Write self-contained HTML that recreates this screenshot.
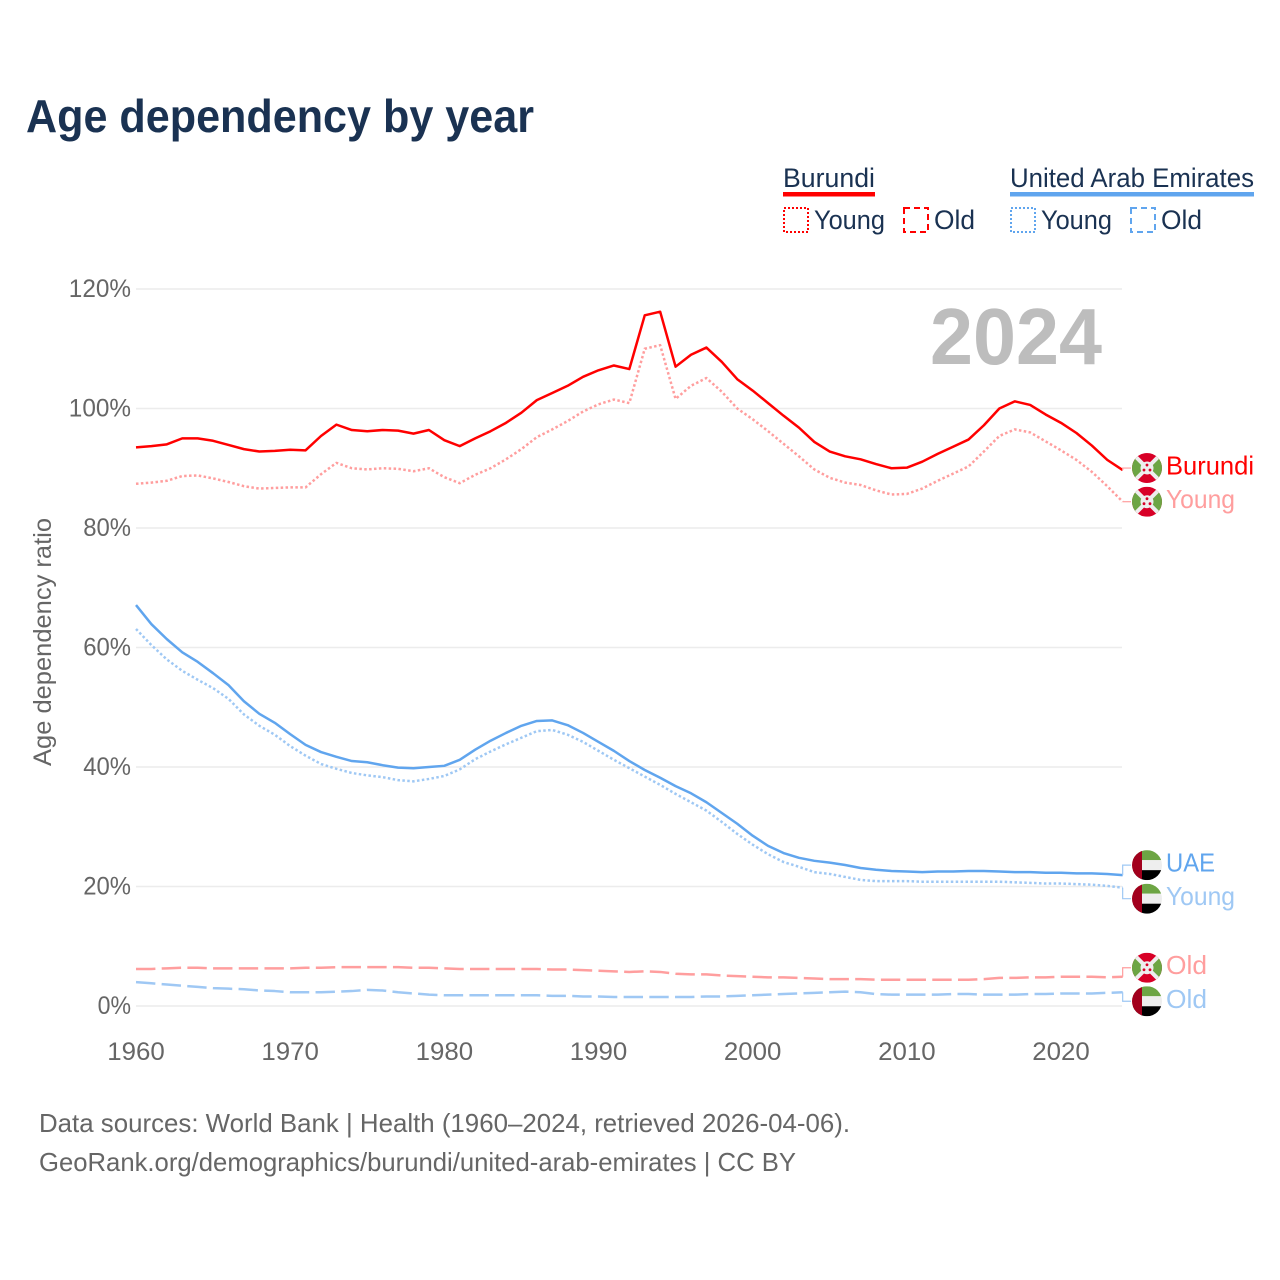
<!DOCTYPE html>
<html lang="en">
<head>
<meta charset="utf-8">
<title>Age dependency by year</title>
<style>
html,body{margin:0;padding:0;background:#fff;}
svg{display:block;}
text{font-family:"Liberation Sans",sans-serif;}
</style>
</head>
<body>
<svg id="chart" xmlns="http://www.w3.org/2000/svg" width="1280" height="1280" viewBox="0 0 1280 1280">
  <rect x="0" y="0" width="1280" height="1280" fill="#ffffff"/>
  <text x="26" y="132" font-size="46" font-weight="700" fill="#1a3252" textLength="508" lengthAdjust="spacingAndGlyphs">Age dependency by year</text>

  <g font-size="27" fill="#1a3252">
    <text x="783" y="187" textLength="92" lengthAdjust="spacingAndGlyphs">Burundi</text>
    <rect x="783" y="192" width="92" height="4.5" fill="#ff0000"/>
    <rect x="784" y="208" width="24" height="24" fill="none" stroke="#ff0000" stroke-width="2" stroke-dasharray="2 2"/>
    <text x="814" y="229" textLength="71" lengthAdjust="spacingAndGlyphs">Young</text>
    <rect x="904" y="208" width="24" height="24" fill="none" stroke="#ff0000" stroke-width="2" stroke-dasharray="6 4"/>
    <text x="934" y="229" textLength="41" lengthAdjust="spacingAndGlyphs">Old</text>
    <text x="1010" y="187" textLength="244" lengthAdjust="spacingAndGlyphs">United Arab Emirates</text>
    <rect x="1010" y="192" width="244" height="4.5" fill="#60a5ee"/>
    <rect x="1011" y="208" width="24" height="24" fill="none" stroke="#60a5ee" stroke-width="2" stroke-dasharray="2 2"/>
    <text x="1041" y="229" textLength="71" lengthAdjust="spacingAndGlyphs">Young</text>
    <rect x="1131" y="208" width="24" height="24" fill="none" stroke="#60a5ee" stroke-width="2" stroke-dasharray="6 4"/>
    <text x="1161" y="229" textLength="41" lengthAdjust="spacingAndGlyphs">Old</text>
  </g>

  <g id="grid"></g>
  <g id="yticks"></g>
  <g id="xticks"></g>
  <text transform="translate(51,642) rotate(-90)" text-anchor="middle" font-size="25" fill="#666666" textLength="248" lengthAdjust="spacingAndGlyphs">Age dependency ratio</text>
  <text x="1102" y="364" text-anchor="end" font-size="80" font-weight="700" fill="#bdbdbd" textLength="172" lengthAdjust="spacingAndGlyphs">2024</text>

  <g id="series"></g>
  <g id="labels"></g>

  <g font-size="26" fill="#666666">
    <text x="39" y="1132" textLength="811" lengthAdjust="spacingAndGlyphs">Data sources: World Bank | Health (1960–2024, retrieved 2026-04-06).</text>
    <text x="39" y="1171" textLength="757" lengthAdjust="spacingAndGlyphs">GeoRank.org/demographics/burundi/united-arab-emirates | CC BY</text>
  </g>
</svg>
<script>
const startYear = 1960;
const endYear = 2024;
const yTickValues = [0, 20, 40, 60, 80, 100, 120];
const xTickValues = [1960, 1970, 1980, 1990, 2000, 2010, 2020];

const burundiTotal = [
  93.5, 93.7, 94.0, 95.0, 95.0, 94.6, 93.9, 93.2, 92.8, 92.9,
  93.1, 93.0, 95.4, 97.3, 96.4, 96.2, 96.4, 96.3, 95.8, 96.4,
  94.7, 93.7, 95.0, 96.2, 97.6, 99.3, 101.4, 102.6, 103.8, 105.3,
  106.4, 107.2, 106.6, 115.6, 116.2, 107.0, 109.0, 110.2, 107.8, 104.9,
  103.0, 100.9, 98.8, 96.8, 94.4, 92.8, 92.0, 91.5, 90.7, 90.0,
  90.1, 91.1, 92.4, 93.6, 94.8, 97.2, 100.0, 101.2, 100.6, 99.0,
  97.6, 95.9, 93.8, 91.4, 89.7
];
const burundiYoung = [
  87.4, 87.6, 87.9, 88.7, 88.8, 88.3, 87.7, 87.0, 86.6, 86.7,
  86.8, 86.8, 89.0, 90.9, 90.0, 89.8, 90.0, 89.9, 89.5, 90.0,
  88.5, 87.5, 88.9, 90.0, 91.5, 93.2, 95.2, 96.5, 97.9, 99.5,
  100.7, 101.5, 100.9, 110.0, 110.6, 101.6, 103.8, 105.1, 102.8, 100.0,
  98.2, 96.2, 94.1, 92.0, 89.8, 88.4, 87.6, 87.2, 86.3, 85.6,
  85.7, 86.6, 87.9, 89.1, 90.3, 92.8, 95.4, 96.5, 96.0, 94.5,
  93.0, 91.4, 89.4, 87.0, 84.4
];
const burundiOld = [
  6.2, 6.2, 6.3, 6.4, 6.4, 6.3, 6.3, 6.3, 6.3, 6.3,
  6.3, 6.4, 6.4, 6.5, 6.5, 6.5, 6.5, 6.5, 6.4, 6.4,
  6.3, 6.2, 6.2, 6.2, 6.2, 6.2, 6.2, 6.1, 6.1, 6.0,
  5.9, 5.8, 5.7, 5.8, 5.7, 5.4, 5.3, 5.3, 5.1, 5.0,
  4.9, 4.8, 4.8, 4.7, 4.6, 4.5, 4.5, 4.5, 4.4, 4.4,
  4.4, 4.4, 4.4, 4.4, 4.4, 4.5, 4.7, 4.7, 4.8, 4.8,
  4.9, 4.9, 4.9, 4.8, 4.9
];
const uaeTotal = [
  67.1, 63.9, 61.4, 59.2, 57.6, 55.7, 53.7, 51.0, 48.9, 47.4,
  45.5, 43.7, 42.5, 41.7, 41.0, 40.8, 40.3, 39.9, 39.8, 40.0,
  40.2, 41.2, 42.9, 44.4, 45.7, 46.9, 47.7, 47.8, 47.0, 45.7,
  44.2, 42.7, 41.0, 39.5, 38.2, 36.8, 35.6, 34.1, 32.3, 30.5,
  28.5, 26.8, 25.6, 24.8, 24.3, 24.0, 23.6, 23.1, 22.8, 22.6,
  22.5, 22.4, 22.5, 22.5, 22.6, 22.6, 22.5, 22.4, 22.4, 22.3,
  22.3, 22.2, 22.2, 22.1, 21.9
];
const uaeYoung = [
  63.1, 60.4, 58.0, 56.1, 54.6, 53.2, 51.4, 48.8, 46.9, 45.4,
  43.5, 41.9, 40.5, 39.7, 39.0, 38.6, 38.3, 37.8, 37.6, 38.0,
  38.5, 39.6, 41.3, 42.6, 43.8, 44.9, 46.0, 46.2, 45.4, 44.2,
  42.7, 41.2, 39.8, 38.4, 37.0, 35.5, 34.1, 32.7, 30.8, 28.8,
  27.0, 25.4, 24.1, 23.3, 22.4, 22.1, 21.6, 21.1, 20.9, 20.9,
  20.9, 20.8, 20.8, 20.8, 20.8, 20.8, 20.8, 20.7, 20.6, 20.5,
  20.5, 20.4, 20.3, 20.1, 19.8
];
const uaeOld = [
  4.0, 3.8, 3.6, 3.4, 3.2, 3.0, 2.9, 2.8, 2.6, 2.5,
  2.3, 2.3, 2.3, 2.4, 2.5, 2.7, 2.6, 2.3, 2.1, 1.9,
  1.8, 1.8, 1.8, 1.8, 1.8, 1.8, 1.8, 1.7, 1.7, 1.6,
  1.6, 1.5, 1.5, 1.5, 1.5, 1.5, 1.5, 1.6, 1.6, 1.7,
  1.8, 1.9, 2.0, 2.1, 2.2, 2.3, 2.4, 2.3, 2.0, 1.9,
  1.9, 1.9, 1.9, 2.0, 2.0, 1.9, 1.9, 1.9, 2.0, 2.0,
  2.1, 2.1, 2.1, 2.2, 2.3
];

const NS = 'http://www.w3.org/2000/svg';
function xScale(year) { return 136 + (year - 1960) * 15.4167; }
function yScale(v) { return 1006 - v * 5.975; }
function make(tag, attrs, parent) {
  const el = document.createElementNS(NS, tag);
  for (const k in attrs) el.setAttribute(k, attrs[k]);
  parent.appendChild(el);
  return el;
}

const gridG = document.getElementById('grid');
const yG = document.getElementById('yticks');
const xG = document.getElementById('xticks');
yTickValues.forEach(function (v) {
  const line = make('line', { x1: 136, x2: 1122, y1: yScale(v), y2: yScale(v), stroke: '#ececec', 'stroke-width': 1.6 }, gridG);
  
  
  const label = v + '%';
  const t = make('text', { x: 131, y: yScale(v) + 8, 'text-anchor': 'end', 'font-size': 25, fill: '#666666', textLength: String(v).length * 14.4 + 19, lengthAdjust: 'spacingAndGlyphs' }, yG);
  t.textContent = label;
  
  
});
xTickValues.forEach(function (y) {
  const t = make('text', { x: xScale(y), y: 1060, 'text-anchor': 'middle', 'font-size': 25, fill: '#666666', textLength: 57.5, lengthAdjust: 'spacingAndGlyphs' }, xG);
  t.textContent = y;
  
  
});

function drawFlag(kind, cx, cy, parent, idx) {
  const g = make('g', { transform: 'translate(' + cx + ',' + cy + ')' }, parent);
  
  
  const clipId = 'flagclip' + idx;
  const clip = make('clipPath', { id: clipId }, g);
  make('circle', { cx: 0, cy: 0, r: 15 }, clip);
  const c = make('g', { 'clip-path': 'url(#' + clipId + ')' }, g);
  if (kind === 'burundi') {
    make('rect', { x: -15, y: -15, width: 30, height: 30, fill: '#d80027' }, c);
    make('path', { d: 'M-15,-15 L0,0 L-15,15 Z', fill: '#6da544' }, c);
    make('path', { d: 'M15,-15 L0,0 L15,15 Z', fill: '#6da544' }, c);
    make('path', { d: 'M-15,-15 L15,15 M15,-15 L-15,15', stroke: '#eeeeee', 'stroke-width': 4 }, c);
    make('circle', { cx: 0, cy: 0, r: 6.5, fill: '#eeeeee' }, c);
    make('circle', { cx: 0, cy: -3, r: 1.4, fill: '#d80027' }, c);
    make('circle', { cx: -3, cy: 2, r: 1.4, fill: '#d80027' }, c);
    make('circle', { cx: 3, cy: 2, r: 1.4, fill: '#d80027' }, c);
  } else {
    make('rect', { x: -15, y: -15, width: 30, height: 10, fill: '#6da544' }, c);
    make('rect', { x: -15, y: -5, width: 30, height: 10, fill: '#eeeeee' }, c);
    make('rect', { x: -15, y: 5, width: 30, height: 10, fill: '#000000' }, c);
    make('rect', { x: -15, y: -15, width: 10, height: 30, fill: '#a2001d' }, c);
  }
}

const seriesConfig = [
  { name: 'burundi-old', values: burundiOld, color: '#ff9e9e', width: 2.5, dash: '19.4 6.3', flag: 'burundi', label: 'Old', labelWidth: 41, dy: -9 },
  { name: 'uae-old', values: uaeOld, color: '#9fc8f4', width: 2.5, dash: '19.4 6.3', flag: 'uae', label: 'Old', labelWidth: 41, dy: 9 },
  { name: 'burundi-young', values: burundiYoung, color: '#ff9e9e', width: 2.5, dash: '2.5 2.4', flag: 'burundi', label: 'Young', labelWidth: 69, dy: 0 },
  { name: 'uae-young', values: uaeYoung, color: '#9fc8f4', width: 2.5, dash: '2.5 2.4', flag: 'uae', label: 'Young', labelWidth: 69, dy: 11 },
  { name: 'burundi-total', values: burundiTotal, color: '#ff0000', width: 2.5, dash: null, flag: 'burundi', label: 'Burundi', labelWidth: 88, dy: -2 },
  { name: 'uae-total', values: uaeTotal, color: '#60a5ee', width: 2.5, dash: null, flag: 'uae', label: 'UAE', labelWidth: 49, dy: -10 }
];
const seriesG = document.getElementById('series');
const labelsG = document.getElementById('labels');
seriesConfig.forEach(function (s, i) {
  const d = s.values.map(function (v, k) {
    return (k ? 'L' : 'M') + xScale(startYear + k).toFixed(2) + ',' + yScale(v).toFixed(2);
  }).join(' ');
  const attrs = { d: d, fill: 'none', stroke: s.color, 'stroke-width': s.width, 'stroke-linejoin': 'round' };
  if (s.dash) attrs['stroke-dasharray'] = s.dash;
  const p = make('path', attrs, seriesG);
  
  

  const ex = xScale(endYear);
  const ey = yScale(s.values[s.values.length - 1]);
  const ly = ey + s.dy;
  const connectorColor = s.flag === 'burundi' ? '#ff9e9e' : '#9fc8f4';
  const conn = make('path', { d: 'M' + ex + ',' + ey + ' V' + ly + ' H1131', fill: 'none', stroke: connectorColor, 'stroke-width': 1.2 }, labelsG);
  
  
  drawFlag(s.flag, 1147, ly, labelsG, i);
  const t = make('text', { x: 1166, y: ly + 6.5, 'font-size': 26, fill: s.color, textLength: s.labelWidth, lengthAdjust: 'spacingAndGlyphs' }, labelsG);
  t.textContent = s.label;
  
  
});
</script>
</body>
</html>
